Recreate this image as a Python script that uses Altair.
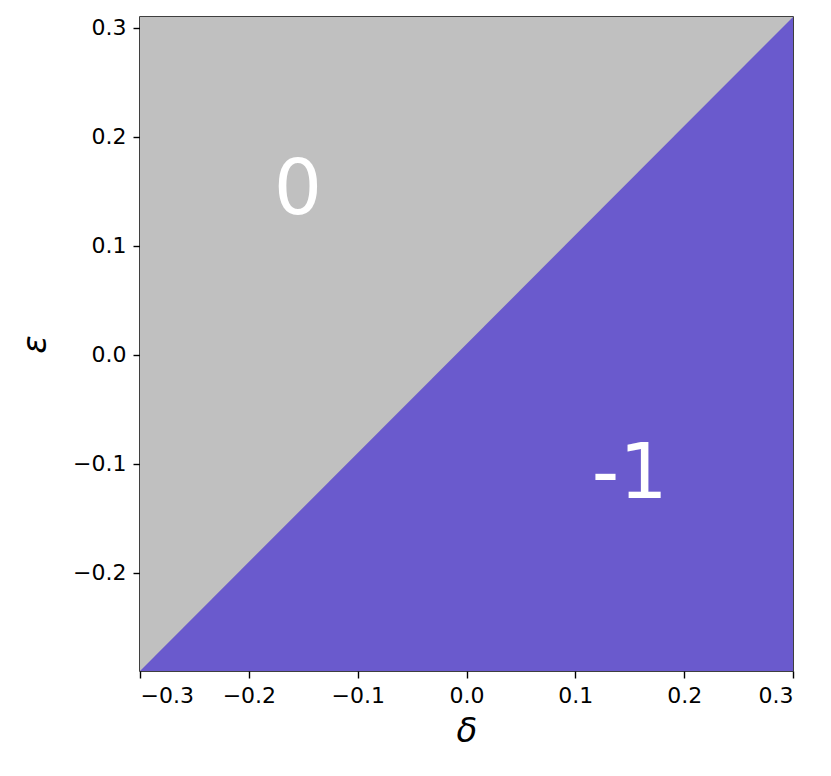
import altair as alt
import pandas as pd

# Region boundary (purple region lies below the boundary line)
delta_edges = [-0.3, 0.3]
eps_boundary = [-0.29, 0.31]
eps_bottom = [-0.29, -0.29]

# Full extent of the plot (gray background region)
delta_range = [-0.3, 0.3]
eps_range = [-0.29, 0.31]

# Region labels
label_text = ["0", "-1"]
label_delta = [-0.155, 0.15]
label_eps = [0.129, -0.131]

x_ticks = [-0.3, -0.2, -0.1, 0.0, 0.1, 0.2, 0.3]
y_ticks = [-0.2, -0.1, 0.0, 0.1, 0.2, 0.3]

xs = alt.Scale(domain=delta_range, nice=False, zero=False)
ys = alt.Scale(domain=eps_range, nice=False, zero=False)

bg_df = pd.DataFrame({"x": [delta_range[0]], "x2": [delta_range[1]],
                      "y": [eps_range[0]], "y2": [eps_range[1]]})
area_df = pd.DataFrame({"delta": delta_edges, "eps": eps_boundary, "bottom": eps_bottom})
lab_df = pd.DataFrame({"t": label_text, "delta": label_delta, "eps": label_eps})

x_axis = alt.Axis(title="δ", values=x_ticks, format=".1f", titlePadding=8)
y_axis = alt.Axis(title="ε", values=y_ticks, format=".1f", titlePadding=20)

bg = alt.Chart(bg_df).mark_rect(color="#c0c0c0").encode(
    x=alt.X("x:Q", scale=xs, axis=x_axis),
    x2="x2:Q",
    y=alt.Y("y:Q", scale=ys, axis=y_axis),
    y2="y2:Q",
)

area = alt.Chart(area_df).mark_area(color="#6a5acd", opacity=1).encode(
    x=alt.X("delta:Q", scale=xs),
    y=alt.Y("eps:Q", scale=ys),
    y2="bottom:Q",
)

labels = alt.Chart(lab_df).mark_text(
    color="white", fontSize=76, font="DejaVu Sans", align="center", baseline="alphabetic"
).encode(
    x=alt.X("delta:Q", scale=xs),
    y=alt.Y("eps:Q", scale=ys),
    text="t:N",
)

chart = alt.layer(bg, area, labels).properties(
    width=653, height=654,
    autosize=alt.AutoSizeParams(type="none"),
    padding={"left": 132, "top": 9, "right": 22, "bottom": 90},
).configure_view(
    stroke="black", strokeWidth=1.5
).configure_axis(
    domain=False, grid=False,
    tickColor="black", tickSize=7, tickWidth=1.4,
    labelFont="DejaVu Sans", labelFontSize=22, labelColor="black", labelPadding=7,
    titleFont="DejaVu Sans", titleFontSize=34, titleFontStyle="italic",
    titleFontWeight="normal", titleColor="black",
)

chart.save("out.html", embed_options={"renderer": "svg", "actions": False})
